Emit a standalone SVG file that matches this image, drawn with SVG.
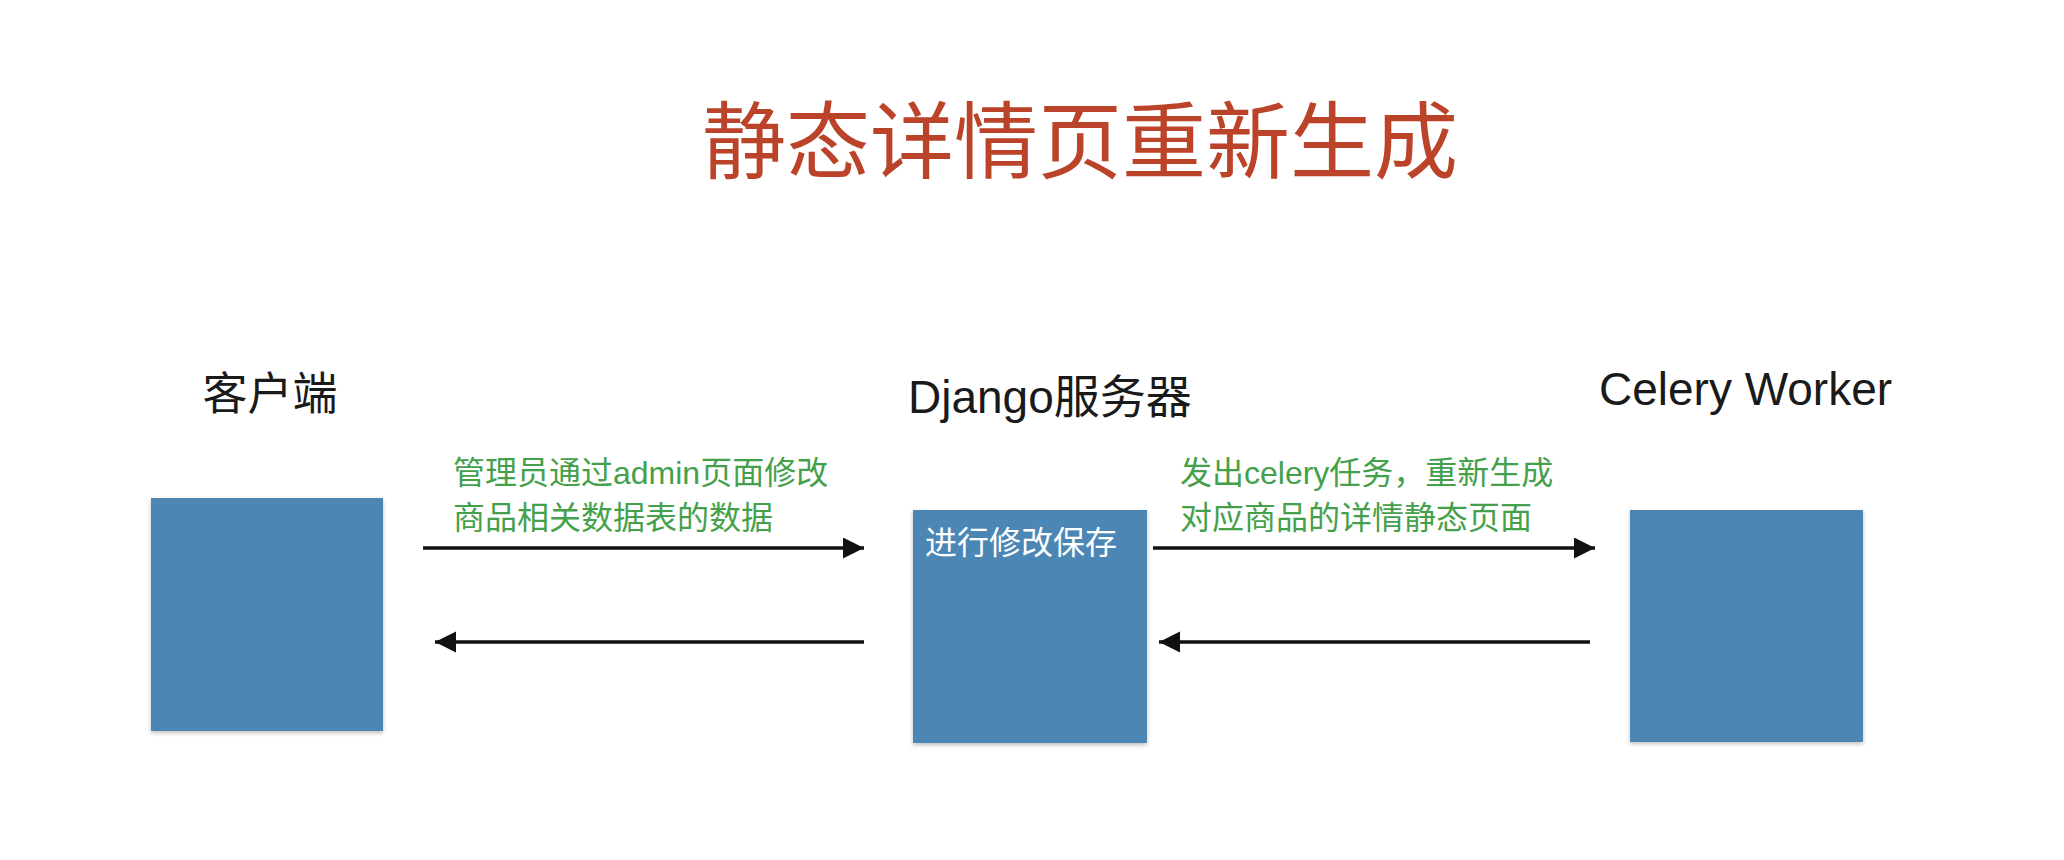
<svg xmlns="http://www.w3.org/2000/svg" width="2064" height="860" viewBox="0 0 2064 860">
  <style>
    .title { font-family: "Liberation Sans", "Noto Sans CJK SC", sans-serif; font-size: 84px; fill: #bb4329; }
    .label { font-family: "Liberation Sans", "Noto Sans CJK SC", sans-serif; font-size: 45px; fill: #1a1a1a; }
    .note { font-family: "Liberation Sans", "Noto Sans CJK SC", sans-serif; font-size: 32px; fill: #45a04b; }
    .inbox { font-family: "Liberation Sans", "Noto Sans CJK SC", sans-serif; font-size: 32px; fill: #ffffff; }
    .box { fill: #4c86b5; filter: url(#shadow); }
    .conn { stroke: #111111; stroke-width: 3.5; fill: none; marker-end: url(#arrow); }
  </style>
  <defs>
    <marker id="arrow" markerUnits="userSpaceOnUse" markerWidth="22" markerHeight="22" refX="21" refY="10.5" orient="auto">
      <path d="M0,0 L21,10.5 L0,21 z" fill="#111111"/>
    </marker>
    <filter id="shadow" x="-10%" y="-10%" width="120%" height="120%">
      <feDropShadow dx="0" dy="2" stdDeviation="2" flood-color="#000000" flood-opacity="0.25"/>
    </filter>
  </defs>
  <rect width="2064" height="860" fill="#ffffff"/>

  <text class="title" x="1080" y="172" text-anchor="middle">静态详情页重新生成</text>

  <g id="client">
    <text class="label" x="270" y="410" text-anchor="middle">客户端</text>
    <rect class="box" x="151" y="498" width="232" height="233"/>
  </g>

  <g id="django">
    <text class="label" x="908" y="413" style="font-size:46px">Django服务器</text>
    <rect class="box" x="913" y="510" width="234" height="233"/>
    <text class="inbox" x="925" y="554">进行修改保存</text>
  </g>

  <g id="celery">
    <text class="label" x="1599" y="405" style="font-size:46px">Celery Worker</text>
    <rect class="box" x="1630" y="510" width="233" height="232"/>
  </g>

  <g id="connectors">
    <line class="conn" x1="423" y1="548" x2="864" y2="548"/>
    <line class="conn" x1="864" y1="642" x2="435" y2="642"/>
    <line class="conn" x1="1153" y1="548" x2="1595" y2="548"/>
    <line class="conn" x1="1590" y1="642" x2="1159" y2="642"/>
    <text class="note" x="453" y="484">管理员通过admin页面修改</text>
    <text class="note" x="453" y="529">商品相关数据表的数据</text>
    <text class="note" x="1180" y="484">发出celery任务，重新生成</text>
    <text class="note" x="1180" y="529">对应商品的详情静态页面</text>
  </g>
</svg>
